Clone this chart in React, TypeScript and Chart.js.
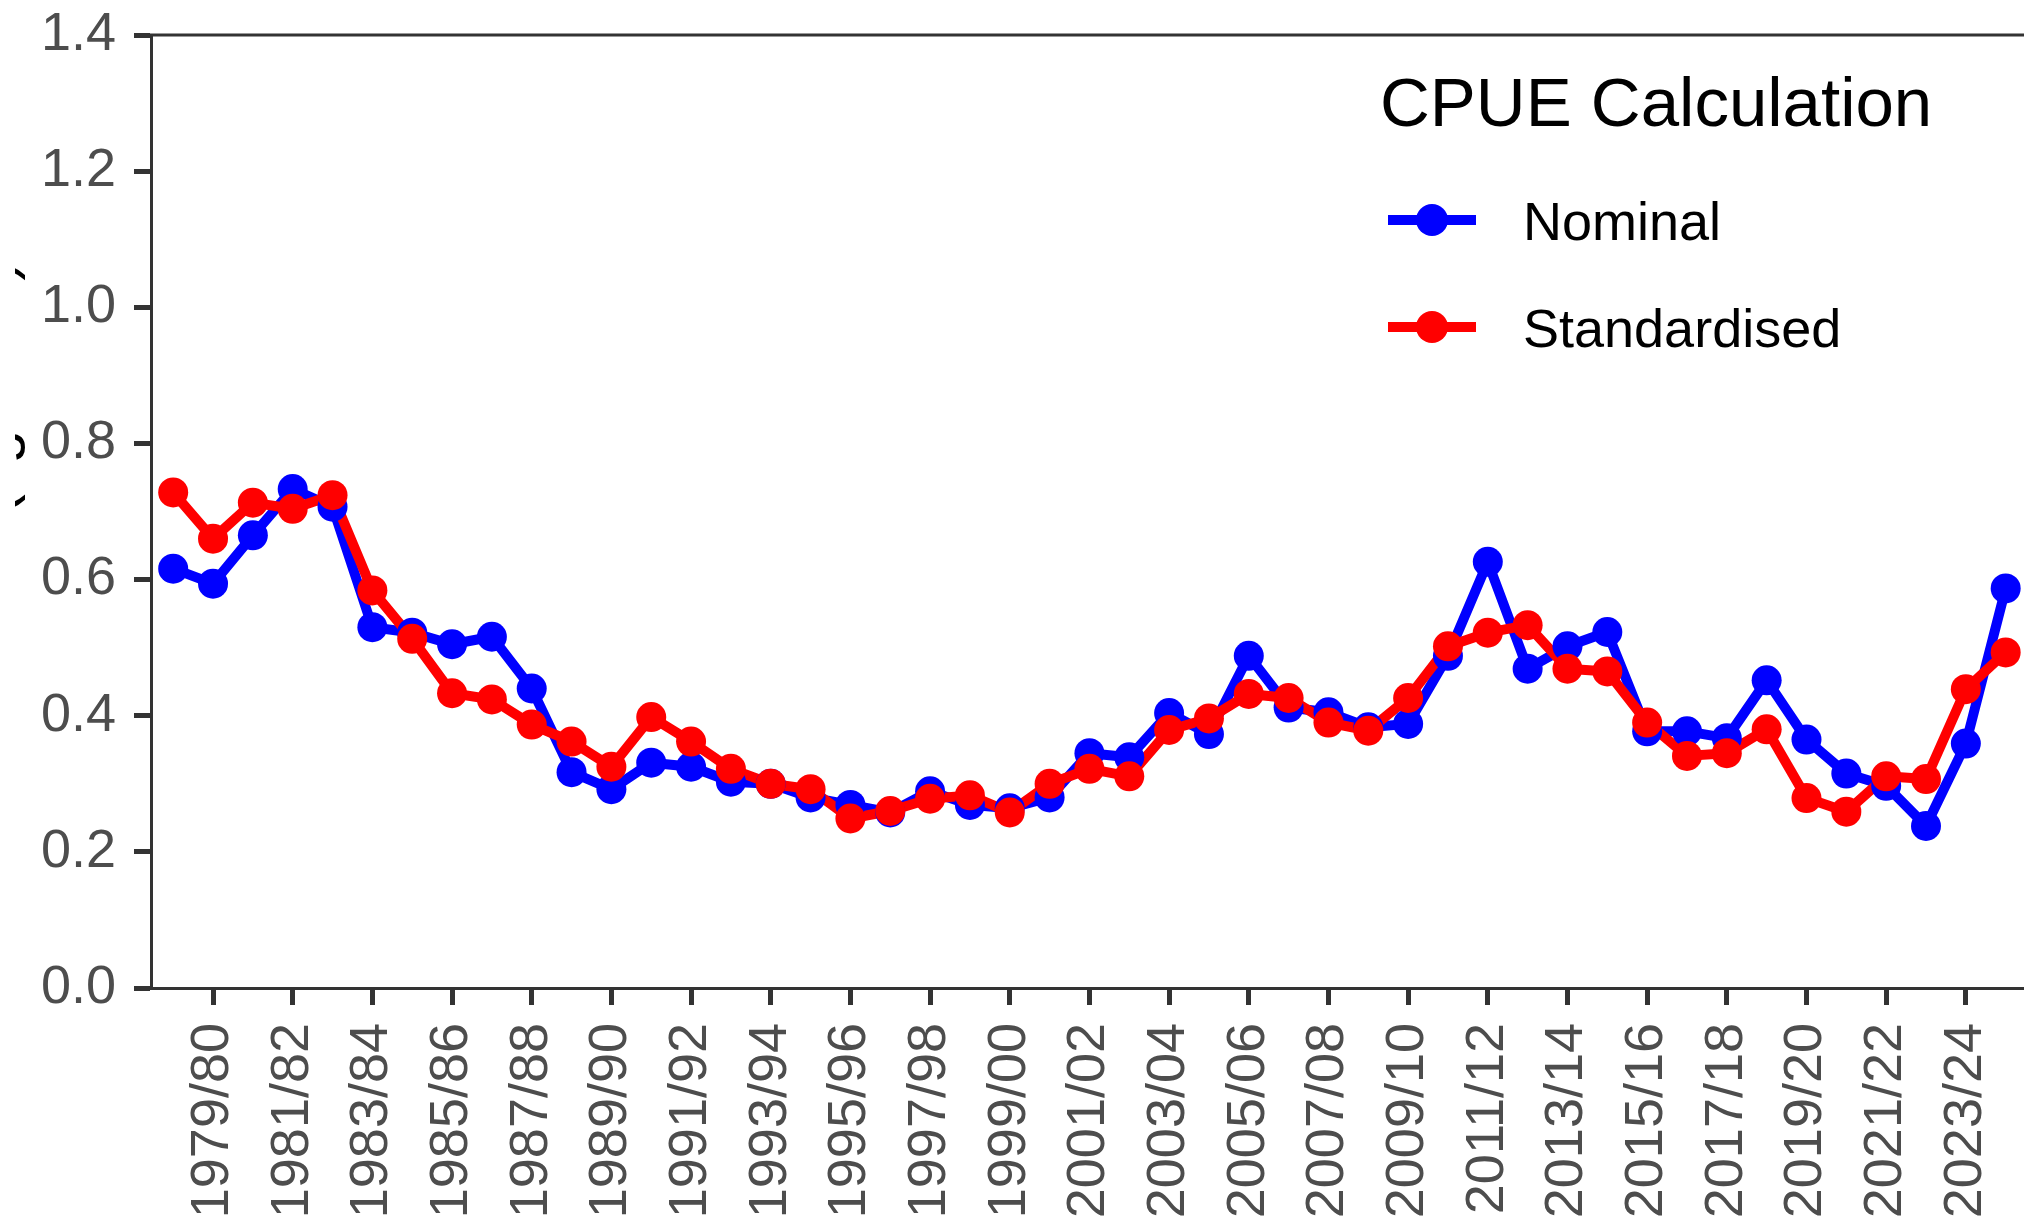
import React, { useEffect, useRef } from "react";
import { Chart, registerables } from "chart.js";

Chart.register(...registerables);

// ---------------- data ----------------
const seasons = [
  "1978/79", "1979/80", "1980/81", "1981/82", "1982/83", "1983/84", "1984/85", "1985/86",
  "1986/87", "1987/88", "1988/89", "1989/90", "1990/91", "1991/92", "1992/93", "1993/94",
  "1994/95", "1995/96", "1996/97", "1997/98", "1998/99", "1999/00", "2000/01", "2001/02",
  "2002/03", "2003/04", "2004/05", "2005/06", "2006/07", "2007/08", "2008/09", "2009/10",
  "2010/11", "2011/12", "2012/13", "2013/14", "2014/15", "2015/16", "2016/17", "2017/18",
  "2018/19", "2019/20", "2020/21", "2021/22", "2022/23", "2023/24", "2024/25",
];

const nominal = [
  0.616, 0.594, 0.665, 0.733, 0.707, 0.530, 0.522, 0.505,
  0.516, 0.440, 0.317, 0.292, 0.331, 0.325, 0.303, 0.300,
  0.280, 0.269, 0.258, 0.289, 0.269, 0.264, 0.280, 0.345,
  0.339, 0.404, 0.373, 0.488, 0.412, 0.405, 0.383, 0.388,
  0.488, 0.626, 0.469, 0.502, 0.523, 0.377, 0.377, 0.367,
  0.452, 0.365, 0.315, 0.297, 0.238, 0.359, 0.587,
];

const standardised = [
  0.728, 0.660, 0.713, 0.704, 0.724, 0.584, 0.513, 0.433,
  0.424, 0.387, 0.362, 0.325, 0.398, 0.362, 0.322, 0.300,
  0.292, 0.249, 0.260, 0.278, 0.283, 0.258, 0.300, 0.322,
  0.311, 0.379, 0.396, 0.432, 0.426, 0.390, 0.378, 0.426,
  0.502, 0.522, 0.533, 0.469, 0.465, 0.390, 0.341, 0.345,
  0.380, 0.279, 0.259, 0.311, 0.307, 0.439, 0.493,
];

const xTickLabels = [
  "1979/80", "1981/82", "1983/84", "1985/86", "1987/88", "1989/90", "1991/92", "1993/94",
  "1995/96", "1997/98", "1999/00", "2001/02", "2003/04", "2005/06", "2007/08", "2009/10",
  "2011/12", "2013/14", "2015/16", "2017/18", "2019/20", "2021/22", "2023/24",
];

const yTickValues = [0, 0.2, 0.4, 0.6, 0.8, 1.0, 1.2, 1.4];

const seriesNames = ["Nominal", "Standardised"];
const seriesColors = ["#0000FF", "#FF0000"];
const legendTitle = "CPUE Calculation";
const yAxisTitle = "CPUE (kg/hook)";

// ---------------- component ----------------
const FONT = '"Liberation Sans", Arial, Helvetica, sans-serif';
const AXIS = "#333333";
const TICK_TEXT = "#4D4D4D";

const zeroPad = (s: any) => {
  s.paddingTop = 0;
  s.paddingBottom = 0;
  s.paddingLeft = 0;
  s.paddingRight = 0;
};

export default function App() {
  const ref = useRef<HTMLCanvasElement | null>(null);

  useEffect(() => {
    const canvas = ref.current;
    if (!canvas) return;

    const xTickIdx = xTickLabels.map((l) => seasons.indexOf(l));
    const toPts = (arr: number[]) => arr.map((v, i) => ({ x: i, y: v }));
    const nPts = toPts(nominal);
    const sPts = toPts(standardised);

    const extras = {
      id: "extras",
      afterDraw(chart: any) {
        const { ctx, chartArea } = chart;
        ctx.save();
        // top panel border
        ctx.strokeStyle = AXIS;
        ctx.lineWidth = 3;
        ctx.beginPath();
        ctx.moveTo(chartArea.left - 1.5, chartArea.top);
        ctx.lineTo(chart.width, chartArea.top);
        ctx.stroke();

        // legend
        ctx.fillStyle = "#000000";
        ctx.textAlign = "left";
        ctx.textBaseline = "alphabetic";
        ctx.font = `69px ${FONT}`;
        ctx.fillText(legendTitle, 1380, 126);
        const rows = [
          { y: 220, base: 240 },
          { y: 327, base: 347 },
        ];
        seriesNames.forEach((name, i) => {
          const r = rows[i];
          ctx.strokeStyle = seriesColors[i];
          ctx.lineWidth = 10;
          ctx.beginPath();
          ctx.moveTo(1388, r.y);
          ctx.lineTo(1476, r.y);
          ctx.stroke();
          ctx.fillStyle = seriesColors[i];
          ctx.beginPath();
          ctx.arc(1432, r.y, 16, 0, Math.PI * 2);
          ctx.fill();
          ctx.fillStyle = "#000000";
          ctx.font = `54px ${FONT}`;
          ctx.fillText(name, 1523, r.base);
        });

        // y-axis title (mostly outside the visible picture)
        ctx.save();
        ctx.beginPath();
        ctx.rect(15, 0, 40, chart.height);
        ctx.clip();
        ctx.translate(12, 701);
        ctx.rotate(-Math.PI / 2);
        ctx.font = `61px ${FONT}`;
        ctx.fillStyle = "#000000";
        ctx.textAlign = "left";
        ctx.textBaseline = "alphabetic";
        ctx.fillText(yAxisTitle, 0, 0);
        ctx.restore();

        ctx.restore();
      },
    };

    const tickFont = { size: 54, family: FONT };

    const chart = new Chart(canvas, {
      type: "line",
      data: {
        datasets: [
          {
            label: seriesNames[1] + " points",
            data: sPts,
            showLine: false,
            pointRadius: 15,
            pointHoverRadius: 15,
            pointBackgroundColor: seriesColors[1],
            pointBorderWidth: 0,
            borderColor: seriesColors[1],
            order: 0,
          },
          {
            label: seriesNames[0] + " points",
            data: nPts,
            showLine: false,
            pointRadius: 15,
            pointHoverRadius: 15,
            pointBackgroundColor: seriesColors[0],
            pointBorderWidth: 0,
            borderColor: seriesColors[0],
            order: 1,
          },
          {
            label: seriesNames[1],
            data: sPts,
            borderColor: seriesColors[1],
            borderWidth: 10,
            borderJoinStyle: "round",
            pointRadius: 0,
            tension: 0,
            order: 2,
          },
          {
            label: seriesNames[0],
            data: nPts,
            borderColor: seriesColors[0],
            borderWidth: 10,
            borderJoinStyle: "round",
            pointRadius: 0,
            tension: 0,
            order: 3,
          },
        ],
      },
      options: {
        responsive: false,
        animation: false,
        devicePixelRatio: 1,
        events: [],
        layout: { autoPadding: false, padding: { top: 35, left: 0, right: 0, bottom: 0 } },
        plugins: {
          legend: { display: false },
          tooltip: { enabled: false },
          title: { display: false },
        },
        scales: {
          x: {
            type: "linear",
            min: -0.557,
            max: 46.46,
            afterBuildTicks: (s: any) => {
              s.ticks = xTickIdx.map((v) => ({ value: v }));
            },
            afterFit: (s: any) => {
              s.height = 233;
              zeroPad(s);
            },
            grid: {
              display: true,
              drawOnChartArea: false,
              drawTicks: true,
              tickLength: 17,
              tickWidth: 5,
              tickColor: AXIS,
            },
            border: { display: true, color: AXIS, width: 3 },
            ticks: {
              autoSkip: false,
              maxRotation: 90,
              minRotation: 90,
              padding: 18,
              color: TICK_TEXT,
              font: tickFont,
              callback: (v: any) => seasons[Math.round(Number(v))] ?? "",
            },
          },
          y: {
            type: "linear",
            min: 0,
            max: 1.4,
            afterBuildTicks: (s: any) => {
              s.ticks = yTickValues.map((v) => ({ value: v }));
            },
            afterFit: (s: any) => {
              s.width = 151;
              zeroPad(s);
            },
            grid: {
              display: true,
              drawOnChartArea: false,
              drawTicks: true,
              tickLength: 17,
              tickWidth: 5,
              tickColor: AXIS,
            },
            border: { display: true, color: AXIS, width: 3 },
            ticks: {
              padding: 18,
              color: TICK_TEXT,
              font: tickFont,
              callback: (v: any) => Number(v).toFixed(1),
            },
          },
        },
      } as any,
      plugins: [extras],
    });

    return () => {
      chart.destroy();
    };
  }, []);

  return (
    <div
      style={{
        position: "fixed",
        left: 0,
        top: 0,
        width: 2024,
        height: 1221,
        background: "#ffffff",
        overflow: "hidden",
      }}
    >
      <canvas ref={ref} width={2024} height={1221} style={{ display: "block" }} />
    </div>
  );
}
